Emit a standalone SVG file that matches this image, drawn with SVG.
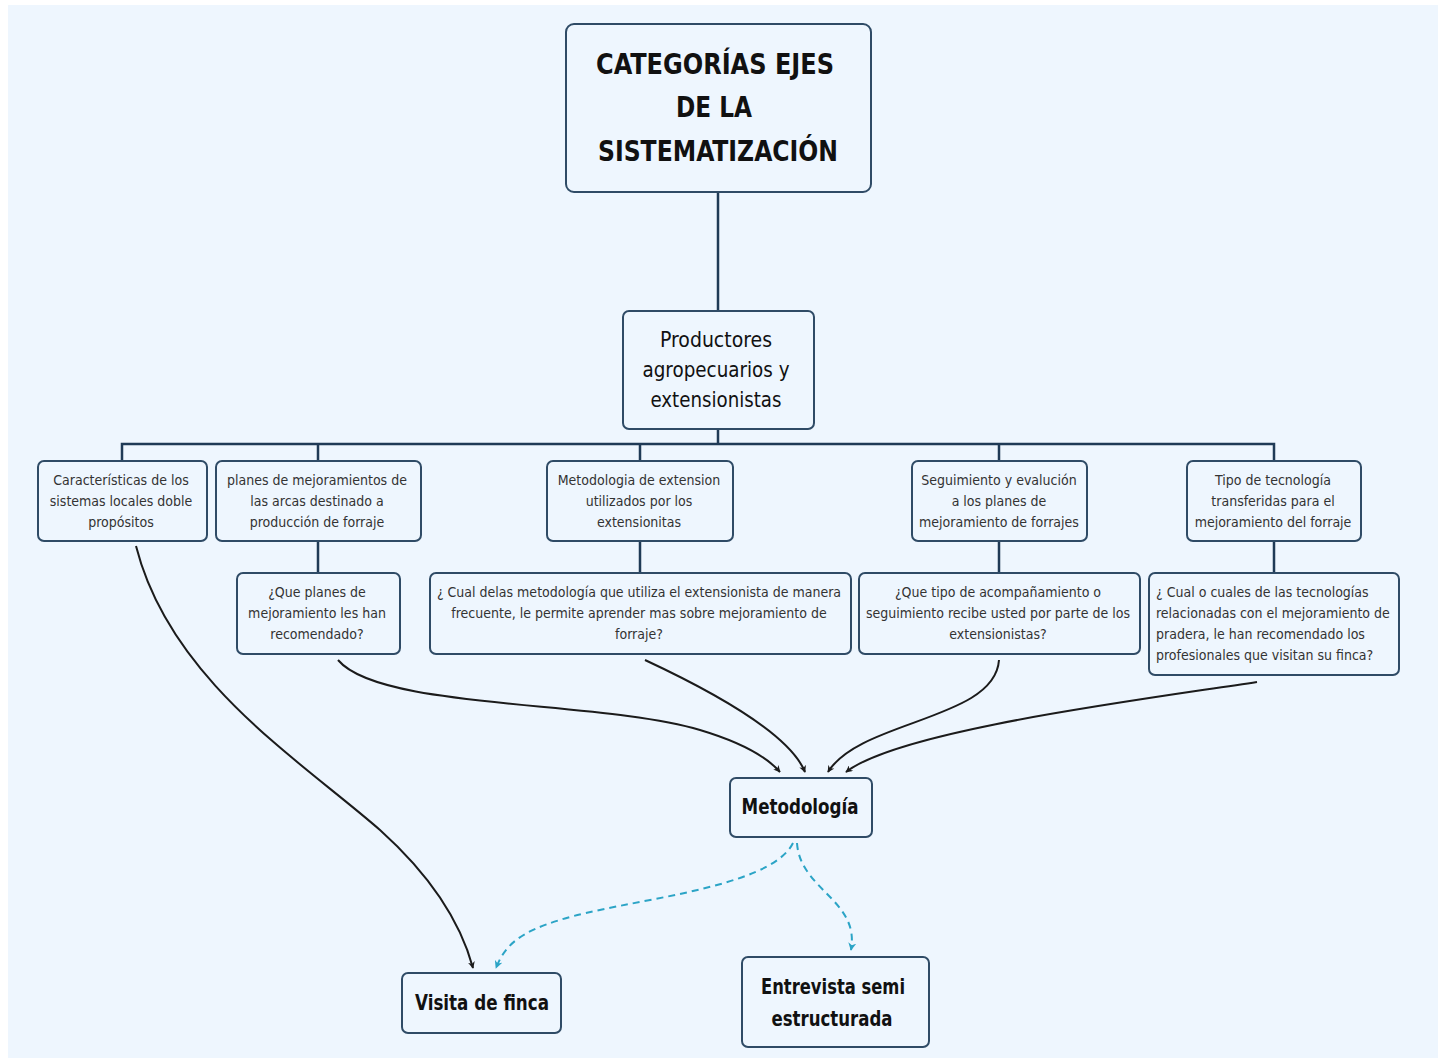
<svg xmlns="http://www.w3.org/2000/svg" width="1444" height="1061" viewBox="0 0 1444 1061">
<style>
.box{fill:#eef6fe;stroke:#2f4b66;stroke-width:2}
.tree{fill:none;stroke:#1f3a56;stroke-width:2.5}
.arr{fill:none;stroke:#1b1b1b;stroke-width:2}
.dash{fill:none;stroke:#2ba4c6;stroke-width:2;stroke-dasharray:7 5}
text{font-family:"DejaVu Sans Condensed","DejaVu Sans","Liberation Sans",sans-serif;text-anchor:middle;fill:#222}
.h1{font-size:28px;font-weight:bold;fill:#111}
.h2{font-size:22px;fill:#111}
.h3{font-size:22px;font-weight:bold;fill:#111}
.s{font-size:14px;fill:#333}
</style>
<defs>
<marker id="ab" viewBox="0 0 10 10" refX="9" refY="5" markerWidth="7" markerHeight="7" orient="auto-start-reverse" markerUnits="userSpaceOnUse"><path d="M0,0 L10,5 L0,10 L3,5 Z" fill="#1b1b1b"/></marker>
<marker id="at" viewBox="0 0 10 10" refX="9" refY="5" markerWidth="8" markerHeight="8" orient="auto-start-reverse" markerUnits="userSpaceOnUse"><path d="M0,0 L10,5 L0,10 L3,5 Z" fill="#2ba4c6"/></marker>
</defs>
<rect x="0" y="0" width="1444" height="1061" fill="#ffffff"/>
<rect x="8" y="5" width="1430" height="1053" fill="#eef6fe"/>
<g id="connectors">
<path class="tree" d="M718,192 V311"/>
<path class="tree" d="M718,429 V444 M122,461 V444 H1274 V461 M318,444 V461 M640,444 V461 M999,444 V461"/>
<path class="tree" d="M318,541 V573 M640,541 V573 M999,541 V573 M1274,541 V573"/>
<path class="arr" marker-end="url(#ab)" d="M136,546 C170,680 300,760 380,830 C430,875 460,920 473,968"/>
<path class="arr" marker-end="url(#ab)" d="M338,660 C380,710 600,700 700,730 C740,742 765,755 780,772"/>
<path class="arr" marker-end="url(#ab)" d="M645,660 C720,695 790,735 805,772"/>
<path class="arr" marker-end="url(#ab)" d="M999,660 C995,720 860,720 828,772"/>
<path class="arr" marker-end="url(#ab)" d="M1257,682 C1140,700 900,730 846,772"/>
<path class="dash" marker-end="url(#at)" d="M793,843 C770,890 620,900 560,920 C520,932 505,945 496,968"/>
<path class="dash" marker-end="url(#at)" d="M797,843 C800,890 860,900 851,950"/>
</g>
<g id="root"><rect class="box" x="566" y="24" width="305" height="168" rx="8"/>
<text class="h1" x="715" y="74" textLength="238" lengthAdjust="spacingAndGlyphs">CATEGORÍAS EJES</text><text class="h1" x="714" y="117" textLength="76" lengthAdjust="spacingAndGlyphs">DE LA</text><text class="h1" x="718" y="161" textLength="240" lengthAdjust="spacingAndGlyphs">SISTEMATIZACIÓN</text></g>
<g id="productores"><rect class="box" x="623" y="311" width="191" height="118" rx="6"/>
<text class="h2" x="716" y="347" textLength="112" lengthAdjust="spacingAndGlyphs">Productores</text><text class="h2" x="716" y="377" textLength="147" lengthAdjust="spacingAndGlyphs">agropecuarios y</text><text class="h2" x="716" y="407" textLength="131" lengthAdjust="spacingAndGlyphs">extensionistas</text></g>
<g id="n1"><rect class="box" x="38" y="461" width="169" height="80" rx="6"/>
<text class="s" x="121" y="485">Características de los</text><text class="s" x="121" y="506">sistemas locales doble</text><text class="s" x="121" y="527">propósitos</text></g>
<g id="n2"><rect class="box" x="216" y="461" width="205" height="80" rx="6"/>
<text class="s" x="317" y="485">planes de mejoramientos de</text><text class="s" x="317" y="506">las arcas destinado a</text><text class="s" x="317" y="527">producción de forraje</text></g>
<g id="n3"><rect class="box" x="547" y="461" width="186" height="80" rx="6"/>
<text class="s" x="639" y="485">Metodologia de extension</text><text class="s" x="639" y="506">utilizados por los</text><text class="s" x="639" y="527">extensionitas</text></g>
<g id="n4"><rect class="box" x="912" y="461" width="175" height="80" rx="6"/>
<text class="s" x="999" y="485">Seguimiento y evalución</text><text class="s" x="999" y="506">a los planes de</text><text class="s" x="999" y="527">mejoramiento de forrajes</text></g>
<g id="n5"><rect class="box" x="1187" y="461" width="174" height="80" rx="6"/>
<text class="s" x="1273" y="485">Tipo de tecnología</text><text class="s" x="1273" y="506">transferidas para el</text><text class="s" x="1273" y="527">mejoramiento del forraje</text></g>
<g id="q2"><rect class="box" x="237" y="573" width="163" height="81" rx="6"/>
<text class="s" x="317" y="597">¿Que  planes de</text><text class="s" x="317" y="618">mejoramiento les han</text><text class="s" x="317" y="639">recomendado?</text></g>
<g id="q3"><rect class="box" x="430" y="573" width="421" height="81" rx="6"/>
<text class="s" x="639" y="597">¿ Cual delas metodología que utiliza el extensionista de manera</text><text class="s" x="639" y="618">frecuente, le permite aprender mas  sobre mejoramiento de</text><text class="s" x="639" y="639">forraje?</text></g>
<g id="q4"><rect class="box" x="859" y="573" width="281" height="81" rx="6"/>
<text class="s" x="998" y="597">¿Que tipo de acompañamiento o</text><text class="s" x="998" y="618">seguimiento recibe usted por parte de los</text><text class="s" x="998" y="639">extensionistas?</text></g>
<g id="q5"><rect class="box" x="1149" y="573" width="250" height="102" rx="6"/>
<text class="s" x="1156" y="597" style="text-anchor:start">¿ Cual o cuales de las tecnologías</text><text class="s" x="1156" y="618" style="text-anchor:start">relacionadas con el mejoramiento de</text><text class="s" x="1156" y="639" style="text-anchor:start">pradera, le han recomendado los</text><text class="s" x="1156" y="660" style="text-anchor:start">profesionales que visitan su finca?</text></g>
<g id="metodologia"><rect class="box" x="730" y="778" width="142" height="59" rx="6"/>
<text class="h3" x="800" y="814" textLength="117" lengthAdjust="spacingAndGlyphs">Metodología</text></g>
<g id="visita"><rect class="box" x="402" y="973" width="159" height="60" rx="6"/>
<text class="h3" x="482" y="1010" textLength="134" lengthAdjust="spacingAndGlyphs">Visita de finca</text></g>
<g id="entrevista"><rect class="box" x="742" y="957" width="187" height="90" rx="6"/>
<text class="h3" x="833" y="994" textLength="144" lengthAdjust="spacingAndGlyphs">Entrevista semi</text><text class="h3" x="832" y="1026" textLength="121" lengthAdjust="spacingAndGlyphs">estructurada</text></g>
</svg>
